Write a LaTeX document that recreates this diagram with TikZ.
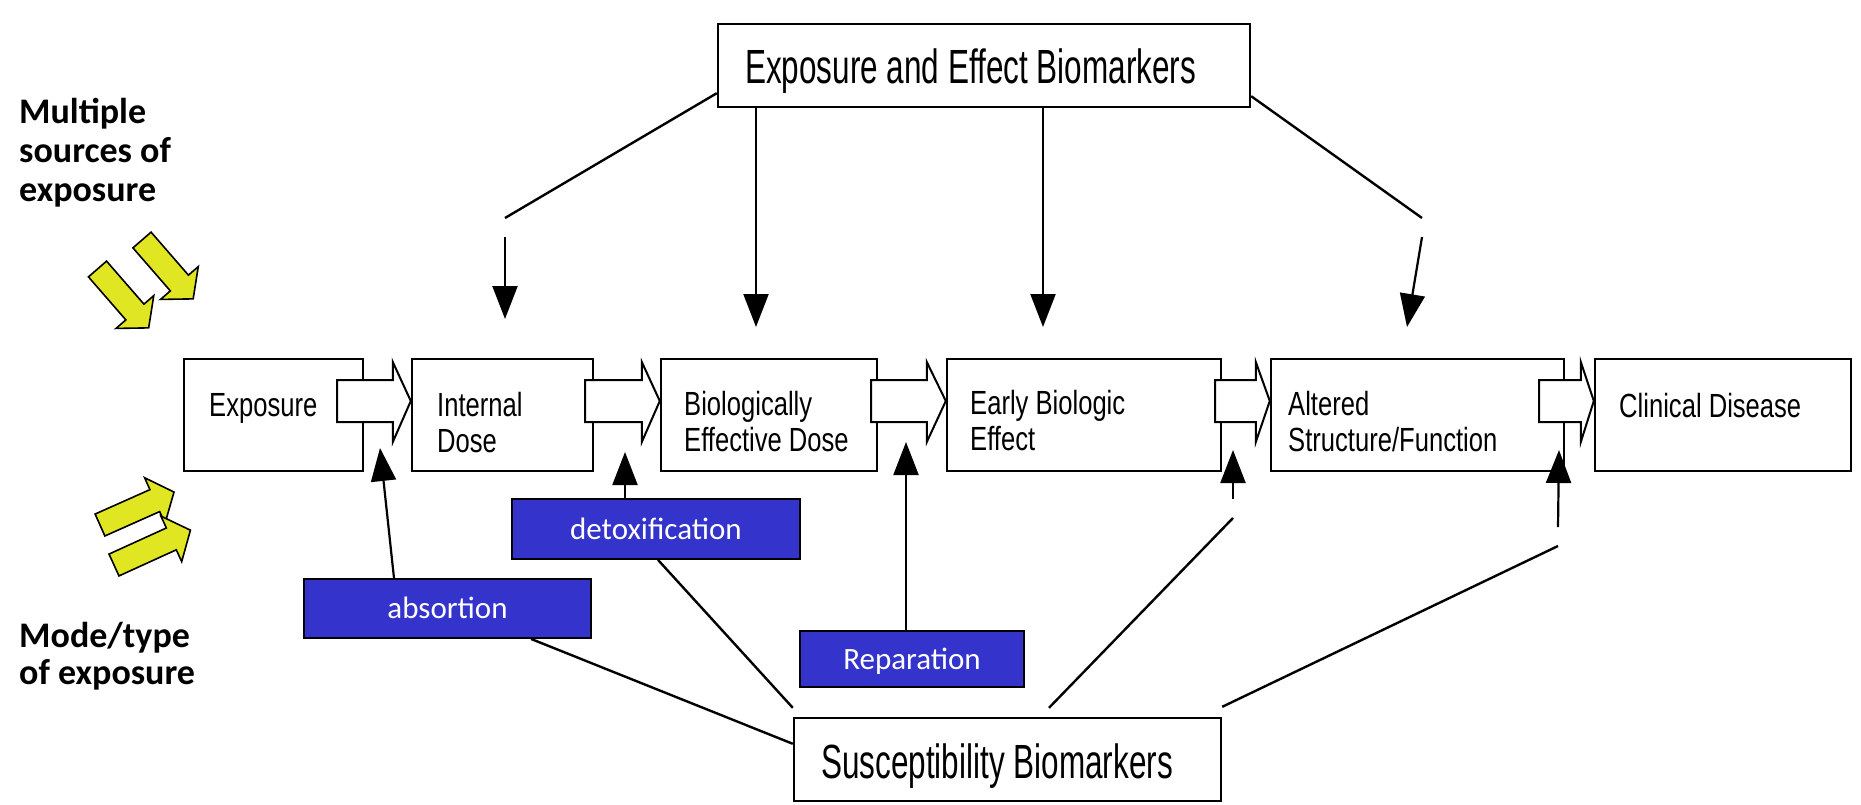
\documentclass[tikz,border=0pt]{standalone}
\usepackage{fontspec}
\setmainfont{Carlito}
\newfontfamily\flowfont[FakeStretch=0.764]{Liberation Sans}
\newfontfamily\bigfont[FakeStretch=0.656]{Liberation Sans}
\usetikzlibrary{arrows.meta,calc}
\definecolor{myblue}{RGB}{52,52,204}
\definecolor{myyellow}{RGB}{225,230,35}
\tikzset{
 flowbox/.style={draw=black, line width=2.4pt, fill=white, inner sep=0pt, minimum height=112pt},
 flowtext/.style={font=\flowfont\fontsize{33.5}{36}\selectfont, inner sep=0pt, align=left, text=black},
 bigtext/.style={font=\bigfont\fontsize{48}{52}\selectfont, inner sep=0pt, text=black},
 bigbox/.style={draw=black, line width=2.4pt, fill=white, inner sep=0pt, minimum height=83pt},
 bluebox/.style={draw=black, line width=1.8pt, fill=myblue, text=white, font=\fontsize{31}{36}\selectfont, inner sep=0pt, text height=20pt, text depth=0pt},
 hollow/.style={draw=black, line width=2pt, fill=white, line join=miter},
 arr/.style={line width=2.2pt, -{Triangle[length=33pt,width=25pt]}},
 link/.style={line width=2.4pt},
 yarr/.style={draw=black, line width=1.6pt, fill=myyellow, line join=miter},
 sidetext/.style={font=\bfseries\fontsize{36}{39}\selectfont, align=left, inner sep=0pt},
}
\newcommand\hollowarr[4]{%
  \draw[hollow] let \p1=(#1.east), \p2=(#2.west) in
    (\x1-#3pt,-380pt) -- (\x2-#4pt,-380pt) -- (\x2-#4pt,-362pt) -- (\x2,-401pt)
    -- (\x2-#4pt,-442pt) -- (\x2-#4pt,-422pt) -- (\x1-#3pt,-422pt) -- cycle;}
\newcommand\yarrow[4]{%
  \begin{scope}[shift={(#1,#2)},rotate=#3]
  \draw[yarr] (0,-12) -- (#4-21,-12) -- (#4-21,-25) -- (#4,0) -- (#4-21,25) -- (#4-21,12) -- (0,12) -- cycle;
  \end{scope}}
\begin{document}
\begin{tikzpicture}[x=1pt,y=-1pt]
\useasboundingbox (0,0) rectangle (1861,804);
% main flow boxes
\node[flowbox, minimum width=179pt] (exp) at (273.5,415) {};
\node[flowbox, minimum width=181pt] (idose) at (502.5,415) {};
\node[flowbox, minimum width=216pt] (bed) at (769,415) {};
\node[flowbox, minimum width=274pt] (ebe) at (1084,415) {};
\node[flowbox, minimum width=293pt] (asf) at (1417.5,415) {};
\node[flowbox, minimum width=256pt] (cd) at (1723,415) {};
\node[flowtext, anchor=base west] (exptxt) at (209,416) {Exposure};
\node[flowtext, anchor=base west] (idtxt) at (437,452) {Internal\\Dose};
\node[flowtext, anchor=base west] (bedtxt) at (684,451) {Biologically\\Effective Dose};
\node[flowtext, anchor=base west] (ebetxt) at (970,450) {Early Biologic\\Effect};
\node[flowtext, anchor=base west] (asftxt) at (1288,451) {Altered\\Structure/Function};
\node[flowtext, anchor=base west] (cdtxt) at (1619,417) {Clinical Disease};
% hollow arrows
\hollowarr{exp}{idose}{27}{18}
\hollowarr{idose}{bed}{9}{18}
\hollowarr{bed}{ebe}{7}{19}
\hollowarr{ebe}{asf}{7}{14}
\hollowarr{asf}{cd}{26}{13}
% top box
\node[bigbox, minimum width=532pt] (eeb) at (984,65.5) {};
\node[bigtext, anchor=base west] (eebtxt) at (745,83) {Exposure and Effect Biomarkers};
% bottom box
\node[bigbox, minimum width=427pt] (sus) at (1007.5,759.5) {};
\node[bigtext, anchor=base west] (sustxt) at (821,778) {Susceptibility Biomarkers};
% blue boxes
\node[bluebox, minimum width=287pt, minimum height=59pt] (abs) at (447.5,608.5) {absortion};
\node[bluebox, minimum width=288pt, minimum height=60pt] (detox) at (656,529) {detoxification};
\node[bluebox, minimum width=224pt, minimum height=56pt] (rep) at (912,659) {Reparation};
% top connectors
\coordinate (c1) at (505,218); \coordinate (c1b) at (505,237); \coordinate (t1) at (505,319);
\draw[link] ($(eeb.south west)+(0,-15)$) -- (c1);
\draw[arr] (c1b) -- (t1);
\coordinate (t2) at (756,327); \draw[arr] (eeb.south -| t2) -- (t2);
\coordinate (t3) at (1043,327); \draw[arr] (eeb.south -| t3) -- (t3);
\coordinate (c4) at (1422,218); \coordinate (c4b) at (1422,237); \coordinate (t4) at (1407,327);
\draw[link] ($(eeb.south east)+(0,-12)$) -- (c4);
\draw[arr] (c4b) -- (t4);
% bottom connectors
\coordinate (u1) at (380,448); \draw[arr] (abs.north -| 394,0) -- (u1);
\draw[link] ($(sus.north west)+(0,27)$) -- (abs.south -| 531,0);
\draw[link] ($(sus.north west)+(0,-9)$) -- (detox.south -| 658,0);
\coordinate (u2) at (625,452); \draw[arr] (detox.north -| u2) -- (u2);
\coordinate (u3) at (906,442); \draw[arr] (rep.north -| u3) -- (u3);
\coordinate (c5) at (1233,518); \coordinate (c5b) at (1233,499); \coordinate (u4) at (1233,450);
\draw[link] ($(sus.north)+(41.5,-9)$) -- (c5);
\draw[arr] (c5b) -- (u4);
\coordinate (c6) at (1558,546); \coordinate (c6b) at (1558,527); \coordinate (u5) at (1559,450);
\draw[link] ($(sus.north east)+(0,-10)$) -- (c6);
\draw[arr] (c6b) -- (u5);
% side texts
\node[sidetext, anchor=base west] (src) at (19,201) {Multiple\\sources of\\exposure};
\node[sidetext, anchor=base west, font=\bfseries\fontsize{36}{37}\selectfont] (mode) at (19,684) {Mode/type\\of exposure};
% yellow arrows
\yarrow{142}{240}{-49}{78}
\yarrow{97.5}{269}{-49}{78}
\yarrow{100}{525}{24}{81}
\yarrow{114}{565}{24.5}{84}
\end{tikzpicture}
\end{document}
